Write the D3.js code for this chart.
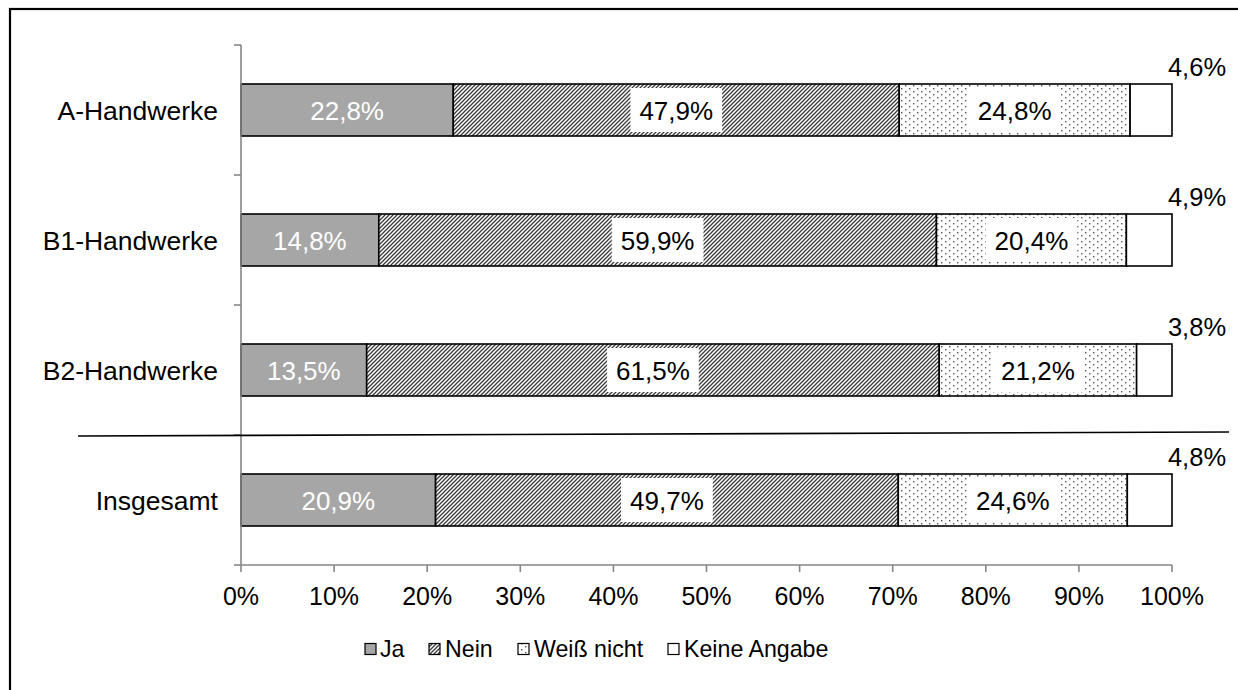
<!DOCTYPE html>
<html>
<head>
<meta charset="utf-8">
<script src="https://cdn.jsdelivr.net/npm/d3@7"></script>
<style>
  html, body { margin: 0; padding: 0; background: #fff; }
  svg { display: block; }
  text { font-family: "Liberation Sans", Arial, sans-serif; }
</style>
</head>
<body>
<svg id="chart" width="1238" height="690"></svg>
<script>
const categories = ["A-Handwerke", "B1-Handwerke", "B2-Handwerke", "Insgesamt"];
const seriesNames = ["Ja", "Nein", "Weiß nicht", "Keine Angabe"];
const ja = [22.8, 14.8, 13.5, 20.9];
const nein = [47.9, 59.9, 61.5, 49.7];
const weissNicht = [24.8, 20.4, 21.2, 24.6];
const keineAngabe = [4.6, 4.9, 3.8, 4.8];
const xTicks = [0, 10, 20, 30, 40, 50, 60, 70, 80, 90, 100];

const seriesValues = [ja, nein, weissNicht, keineAngabe];
const fmt = v => v.toFixed(1).replace(".", ",") + "%";

const svg = d3.select("#chart");
const defs = svg.append("defs");

// hatch pattern
const hatch = defs.append("pattern").attr("id", "hatch")
  .attr("patternUnits", "userSpaceOnUse").attr("width", 4).attr("height", 4);
hatch.append("rect").attr("width", 4).attr("height", 4).attr("fill", "#fff");
hatch.append("path").attr("d", "M-1,1 l2,-2 M0,4 l4,-4 M3,5 l2,-2")
  .attr("stroke", "#3a3a3a").attr("stroke-width", 1.3);

// dot pattern
const dots = defs.append("pattern").attr("id", "dots")
  .attr("patternUnits", "userSpaceOnUse").attr("width", 8).attr("height", 6);
dots.append("rect").attr("width", 8).attr("height", 6).attr("fill", "#fff");
dots.append("rect").attr("x", 1).attr("y", 1).attr("width", 1.4).attr("height", 1.4).attr("fill", "#555");
dots.append("rect").attr("x", 5).attr("y", 4).attr("width", 1.4).attr("height", 1.4).attr("fill", "#555");

const fills = ["#a6a6a6", "url(#hatch)", "url(#dots)", "#ffffff"];

// outer frame
svg.append("rect").attr("x", 10).attr("y", 9).attr("width", 1260).attr("height", 720)
  .attr("fill", "none").attr("stroke", "#000").attr("stroke-width", 2.2);

const x = d3.scaleLinear().domain([0, 100]).range([241, 1172]);
const y = d3.scaleBand().domain(categories).range([45, 565])
  .paddingInner(0.6).paddingOuter(0.3);

// bars
const stacked = categories.map((c, i) => {
  let acc = 0;
  return seriesValues.map((s, k) => {
    const v = s[i];
    const seg = { cat: c, k, v, x0: acc, x1: Math.min(acc + v, 100) };
    acc += v;
    return seg;
  });
});

const gBars = svg.append("g");
stacked.forEach(row => {
  row.forEach(seg => {
    gBars.append("rect")
      .attr("x", x(seg.x0)).attr("y", y(seg.cat))
      .attr("width", x(seg.x1) - x(seg.x0)).attr("height", y.bandwidth())
      .attr("fill", fills[seg.k]).attr("stroke", "#000").attr("stroke-width", 1.6);
  });
});

// axes
const axisColor = "#868686";
const step = y.step();
const yTickPos = d3.range(categories.length + 1).map(i => 45 + i * step);
const gAxis = svg.append("g");
gAxis.append("line").attr("x1", x(0)).attr("x2", x(0)).attr("y1", 45).attr("y2", 565)
  .attr("stroke", axisColor).attr("stroke-width", 1.6);
yTickPos.forEach(p => {
  gAxis.append("line").attr("x1", x(0) - 7).attr("x2", x(0)).attr("y1", p).attr("y2", p)
    .attr("stroke", axisColor).attr("stroke-width", 1.6);
});
gAxis.append("line").attr("x1", x(0)).attr("x2", x(100)).attr("y1", 565).attr("y2", 565)
  .attr("stroke", axisColor).attr("stroke-width", 1.6);
xTicks.forEach(t => {
  gAxis.append("line").attr("x1", x(t)).attr("x2", x(t)).attr("y1", 565).attr("y2", 572)
    .attr("stroke", axisColor).attr("stroke-width", 1.6);
  gAxis.append("text").attr("x", x(t)).attr("y", 605)
    .attr("text-anchor", "middle").attr("font-size", 25).attr("fill", "#000")
    .text(t + "%");
});

// category labels
categories.forEach(c => {
  svg.append("text").attr("x", 218).attr("y", y(c) + y.bandwidth() / 2 + 9.5)
    .attr("text-anchor", "end").attr("font-size", 26.5).attr("fill", "#000").text(c);
});

// separator line
svg.append("line").attr("x1", 78).attr("y1", 436).attr("x2", 1229).attr("y2", 432)
  .attr("stroke", "#000").attr("stroke-width", 1.6);

// data labels
const gLab = svg.append("g");
stacked.forEach(row => {
  row.forEach(seg => {
    const cy = y(seg.cat) + y.bandwidth() / 2;
    if (seg.k === 3) {
      gLab.append("text").attr("x", x(100) + 25).attr("y", y(seg.cat) - 8)
        .attr("text-anchor", "middle").attr("font-size", 25.5).attr("fill", "#000").text(fmt(seg.v));
      return;
    }
    const cx = (x(seg.x0) + x(seg.x1)) / 2;
    const t = gLab.append("text").attr("x", cx).attr("y", cy + 9.5)
      .attr("text-anchor", "middle").attr("font-size", 26)
      .attr("fill", seg.k === 0 ? "#fff" : "#000").text(fmt(seg.v));
    if (seg.k > 0) {
      const bb = t.node().getBBox();
      gLab.insert("rect", () => t.node())
        .attr("x", bb.x - 9).attr("y", cy - 22)
        .attr("width", bb.width + 18).attr("height", 44)
        .attr("fill", "#fff");
    }
  });
});

// legend
const legendItems = [
  { name: seriesNames[0], sx: 365, tx: 380 },
  { name: seriesNames[1], sx: 429, tx: 445 },
  { name: seriesNames[2], sx: 518, tx: 534 },
  { name: seriesNames[3], sx: 668, tx: 684 }
];
legendItems.forEach((d, i) => {
  svg.append("rect").attr("x", d.sx).attr("y", 643.5).attr("width", 11).attr("height", 11)
    .attr("fill", fills[i]).attr("stroke", "#000").attr("stroke-width", 1.2);
  svg.append("text").attr("x", d.tx).attr("y", 657).attr("font-size", 23.2)
    .attr("fill", "#000").text(d.name);
});
</script>
</body>
</html>
